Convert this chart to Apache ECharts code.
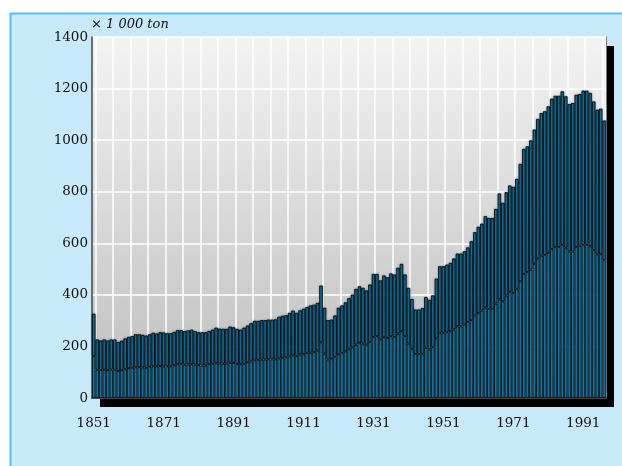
<!DOCTYPE html>
<html>
<head>
<meta charset="utf-8">
<script src="https://cdn.jsdelivr.net/npm/echarts@6/dist/echarts.min.js"></script>
<style>
html,body{margin:0;padding:0;background:#fff;}
#chart{width:622px;height:466px;}
</style>
</head>
<body>
<div id="chart"></div>
<script>
// Years 1851..1997
var years = [];
for (var y = 1851; y <= 1997; y++) { years.push(String(y)); }

// Total values (x 1 000 ton), one per year 1851..1997
var totalValues = [
  327,227,223,227,223,227,227,217,222,231,
  237,240,247,247,245,242,247,253,250,255,
  254,251,251,256,263,263,259,262,265,259,
  255,255,255,260,265,273,269,268,268,277,
  274,268,265,273,281,290,299,299,302,302,
  304,304,305,315,319,321,330,339,330,340,
  346,353,359,362,369,436,350,302,304,320,
  350,359,371,387,401,423,433,427,417,440,
  481,481,456,475,468,483,479,505,520,479,
  427,384,343,343,349,391,381,398,463,511,
  511,517,524,541,560,560,569,584,608,643,
  664,676,705,698,698,733,793,757,798,824,
  819,850,908,966,976,999,1041,1082,1105,1112,
  1131,1161,1172,1172,1189,1170,1140,1144,1176,1179,
  1192,1192,1183,1150,1118,1122,1076
];

// Lower part (inner divider line), one per year
var lowerValues = [
  162,110,109,110,108,110,110,105,108,113,
  116,117,119,120,118,117,121,123,123,124,
  123,123,123,127,131,131,129,130,131,130,
  127,126,126,131,133,135,134,133,134,137,
  136,132,131,133,139,142,146,148,149,149,
  150,150,150,153,156,158,161,165,162,169,
  170,175,176,178,184,216,172,149,152,160,
  170,175,181,191,196,207,214,211,207,218,
  237,240,227,236,233,240,237,250,259,240,
  211,191,171,171,172,195,188,197,231,253,
  253,255,259,266,278,278,285,295,302,320,
  330,339,351,346,346,366,382,375,397,412,
  408,423,453,481,489,498,520,540,552,555,
  563,578,586,586,594,583,568,568,586,591,
  594,594,588,573,557,558,534
];

var yTicks = { min: 0, max: 1400, step: 200 };
var unitLabel = '\u00d7 1 000 ton';

var upperValues = totalValues.map(function (v, i) { return v - lowerValues[i]; });

var barStyle = {
  color: '#1273a0',
  borderColor: '#000',
  borderWidth: 0.8
};

var serif = 'DejaVu Serif';
var frameLine = { show: true, lineStyle: { color: '#444', width: 1.5 } };

var chart = echarts.init(document.getElementById('chart'), null, { renderer: 'canvas' });
chart.setOption({
  backgroundColor: '#ffffff',
  animation: false,
  graphic: [
    { type: 'rect', z: -100, shape: { x: 10, y: 13, width: 612, height: 453 }, style: { fill: '#c8e9f9' } },
    { type: 'line', z: -99, shape: { x1: 10.5, y1: 13, x2: 10.5, y2: 466 }, style: { stroke: '#5dc0ec', lineWidth: 2 } },
    { type: 'line', z: -99, shape: { x1: 10, y1: 13.5, x2: 622, y2: 13.5 }, style: { stroke: '#5dc0ec', lineWidth: 2 } }
  ],
  title: {
    text: unitLabel,
    left: 91,
    top: 18,
    padding: 0,
    textStyle: { fontFamily: serif, fontStyle: 'italic', fontWeight: 'normal', fontSize: 13, color: '#111' }
  },
  grid: {
    left: 92, right: 16, top: 37, bottom: 68,
    show: true,
    backgroundColor: new echarts.graphic.LinearGradient(0, 0, 0, 1, [
      { offset: 0, color: '#f3f3f3' },
      { offset: 1, color: '#bdbdbd' }
    ]),
    borderWidth: 0,
    shadowColor: '#000',
    shadowBlur: 0,
    shadowOffsetX: 8,
    shadowOffsetY: 9
  },
  xAxis: [
    {
      type: 'category',
      data: years,
      boundaryGap: true,
      axisLine: frameLine,
      axisTick: { show: false },
      axisLabel: {
        interval: 19,
        margin: 18,
        fontFamily: serif,
        fontSize: 13.5,
        color: '#111'
      },
      splitLine: {
        show: true,
        interval: function (index) { return index % 5 === 1; },
        lineStyle: { color: '#ffffff', width: 1.5 }
      }
    },
    {
      type: 'category',
      data: years,
      position: 'top',
      axisLine: frameLine,
      axisTick: { show: false },
      axisLabel: { show: false },
      splitLine: { show: false }
    }
  ],
  yAxis: [
    {
      type: 'value',
      min: yTicks.min,
      max: yTicks.max,
      interval: yTicks.step,
      axisLine: frameLine,
      axisTick: { show: false },
      axisLabel: {
        margin: 4,
        fontFamily: serif,
        fontSize: 13.5,
        color: '#111',
        padding: [6, 0, 0, 0],
        formatter: function (v) { return String(v); }
      },
      splitLine: { show: true, lineStyle: { color: '#ffffff', width: 1.5 } }
    },
    {
      type: 'value',
      position: 'right',
      min: yTicks.min,
      max: yTicks.max,
      interval: yTicks.step,
      axisLine: { show: true, lineStyle: { color: '#777', width: 1 } },
      axisTick: { show: false },
      axisLabel: { show: false },
      splitLine: { show: false }
    }
  ],
  series: [
    {
      type: 'bar', stack: 'total', data: lowerValues,
      barCategoryGap: '0%', itemStyle: barStyle
    },
    {
      type: 'bar', stack: 'total', data: upperValues,
      barCategoryGap: '0%',
      itemStyle: Object.assign({}, barStyle, { shadowColor: 'rgba(0,0,0,0.35)', shadowBlur: 2 })
    }
  ]
});
</script>
</body>
</html>
